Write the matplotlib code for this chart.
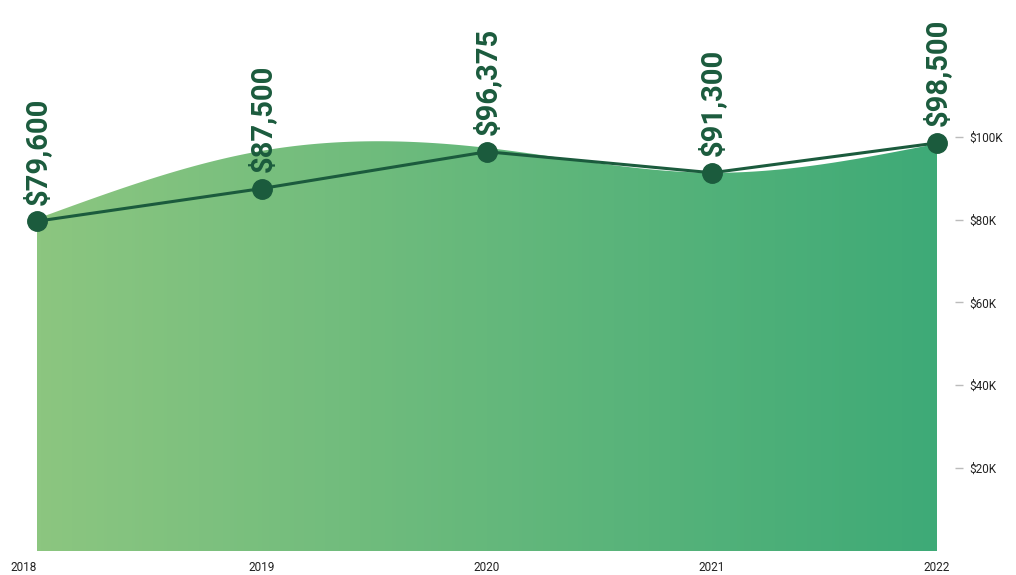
import numpy as np
import matplotlib
matplotlib.use("Agg")
import matplotlib.pyplot as plt
from matplotlib.ticker import FuncFormatter

# -----------------------------
# Data
# -----------------------------
years = [2018, 2019, 2020, 2021, 2022]
salaries = [79600, 87500, 96375, 91300, 98500]
labels = ["$79,600", "$87,500", "$96,375", "$91,300", "$98,500"]
# upper edge of the decorative area, read at each year
area_values = [80200, 96600, 97300, 91300, 98300]
y_ticks = [20000, 40000, 60000, 80000, 100000]

LINE_COLOR = "#1b5b3d"
LEFT_COLOR = "#8cc680"
RIGHT_COLOR = "#3eaa77"


def natural_spline(x, y, xs):
    # natural cubic spline through (x, y), evaluated at xs
    x = np.asarray(x, float)
    y = np.asarray(y, float)
    n = len(x)
    h = np.diff(x)
    A = np.zeros((n, n))
    b = np.zeros(n)
    A[0, 0] = A[-1, -1] = 1
    for i in range(1, n - 1):
        A[i, i - 1] = h[i - 1]
        A[i, i] = 2 * (h[i - 1] + h[i])
        A[i, i + 1] = h[i]
        b[i] = 3 * ((y[i + 1] - y[i]) / h[i] - (y[i] - y[i - 1]) / h[i - 1])
    c = np.linalg.solve(A, b)
    out = np.empty_like(xs, dtype=float)
    for k, xv in enumerate(xs):
        i = min(np.searchsorted(x, xv, side="right") - 1, n - 2)
        i = max(i, 0)
        d = xv - x[i]
        bi = (y[i + 1] - y[i]) / h[i] - h[i] * (2 * c[i] + c[i + 1]) / 3
        di = (c[i + 1] - c[i]) / (3 * h[i])
        out[k] = y[i] + bi * d + c[i] * d ** 2 + di * d ** 3
    return out


fig = plt.figure(figsize=(10.16, 5.75), dpi=100)
ax = fig.add_axes([37 / 1016, 24 / 575, 900 / 1016, 551 / 575])

xs = np.linspace(years[0], years[-1], 400)
ys = natural_spline(years, area_values, xs)

ax.set_xlim(years[0], years[-1])
ax.set_ylim(0, 133000)

# gradient fill clipped to area
poly = ax.fill_between(xs, 0, ys, color="none", lw=0)
grad = np.linspace(0, 1, 256).reshape(1, -1)
cmap = matplotlib.colors.LinearSegmentedColormap.from_list("g", [LEFT_COLOR, RIGHT_COLOR])
img = ax.imshow(grad, extent=[years[0], years[-1], 0, 133000], aspect="auto",
                cmap=cmap, origin="lower", zorder=1)
clip = poly.get_paths()[0]
img.set_clip_path(clip, transform=ax.transData)

ax.plot(years, salaries, color=LINE_COLOR, lw=2.2, marker="o", ms=14,
        zorder=3, clip_on=False)

for x, y, t in zip(years, salaries, labels):
    ax.annotate(t, (x, y), xytext=(0, 12), textcoords="offset points",
                rotation=90, ha="center", va="bottom", fontsize=21,
                fontweight="bold", family="Roboto", color=LINE_COLOR,
                annotation_clip=False, zorder=4)

for s in ax.spines.values():
    s.set_visible(False)

ax.set_xticks(years)
ax.set_xticklabels([str(y) for y in years], fontsize=8.5, color="#222222",
                   family="Roboto")
ax.tick_params(axis="x", length=0, pad=7)
ax.get_xticklabels()[0].set_horizontalalignment("right")
ax.get_xticklabels()[0].set_x(years[0])

ax.yaxis.tick_right()
ax.spines["right"].set_position(("outward", 13))
ax.set_yticks(y_ticks)
ax.yaxis.set_major_formatter(FuncFormatter(lambda v, p: f"${int(v / 1000)}K"))
ax.tick_params(axis="y", length=6, width=1, color="#bbbbbb", labelsize=8.5,
               labelcolor="#222222", pad=4)
for t in ax.get_yticklabels():
    t.set_family("Roboto")

fig.savefig("out.png", dpi=100)
